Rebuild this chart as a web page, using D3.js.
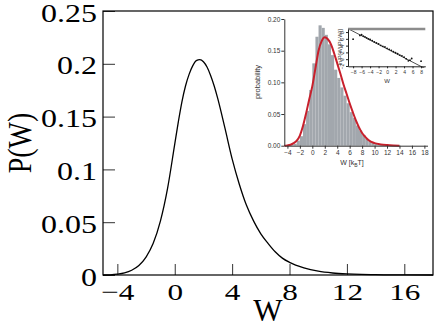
<!DOCTYPE html>
<html>
<head>
<meta charset="utf-8">
<script src="https://cdn.jsdelivr.net/npm/d3@7"></script>
<style>
  body { margin: 0; background: #fff; }
  svg { display: block; }
</style>
</head>
<body>
<svg id="chart"></svg>
<script>
// main curve P(W)
const mainW = [-5, -4.5, -4, -3.5, -3, -2.5, -2, -1.5, -1, -0.5, 0, 0.25, 0.5, 0.75, 1, 1.25, 1.5, 1.75, 2,
  2.25, 2.5, 2.75, 3, 3.5, 4, 4.5, 5, 5.5, 6, 6.5, 7, 7.5, 8, 9, 10, 11, 12, 13, 14, 15, 16, 18];
const mainP = [0, 0.0002, 0.0008, 0.002, 0.0045, 0.009, 0.017, 0.030, 0.051, 0.082, 0.124, 0.145, 0.164, 0.179,
  0.190, 0.198, 0.203, 0.204, 0.202, 0.197, 0.189, 0.179, 0.167, 0.139, 0.110, 0.086, 0.066, 0.051, 0.039,
  0.030, 0.022, 0.016, 0.012, 0.0068, 0.0036, 0.0019, 0.0010, 0.0005, 0.0003, 0.0001, 0.00005, 0];
const mainXTicks = [-4, 0, 4, 8, 12, 16];
const mainYTicks = [0, 0.05, 0.1, 0.15, 0.2, 0.25];
const mainYLabels = ['0', '0.05', '0.1', '0.15', '0.2', '0.25'];

// inset histogram (bin left edges, bin width 0.5)
const histLeft = [-4, -3.5, -3, -2.5, -2, -1.5, -1, -0.5, 0, 0.5, 1, 1.5, 2, 2.5, 3, 3.5, 4, 4.5, 5, 5.5,
  6, 6.5, 7, 7.5, 8, 8.5, 9, 9.5, 10, 10.5, 11, 12, 13];
const histP = [0.001, 0.002, 0.003, 0.008, 0.015, 0.034, 0.055, 0.088, 0.13, 0.172, 0.19, 0.186, 0.175,
  0.16, 0.143, 0.12, 0.107, 0.092, 0.079, 0.067, 0.053, 0.044, 0.032, 0.024, 0.017, 0.011, 0.007, 0.005,
  0.003, 0.002, 0.001, 0.0008, 0.0005];
const binWidth = 0.5;

// inset fitted curve
const insetW = [-4.5, -4, -3.5, -3, -2.5, -2, -1.5, -1, -0.5, 0, 0.5, 1, 1.5, 2, 2.5, 3, 3.5, 4, 4.5, 5,
  5.5, 6, 6.5, 7, 7.5, 8, 8.5, 9, 10, 11, 12, 13, 14];
const insetP = [0, 0.0005, 0.0015, 0.004, 0.008, 0.016, 0.031, 0.051, 0.073, 0.094, 0.122, 0.150, 0.165,
  0.171, 0.168, 0.160, 0.146, 0.130, 0.114, 0.097, 0.082, 0.067, 0.053, 0.040, 0.029, 0.020, 0.014, 0.009,
  0.004, 0.002, 0.001, 0.0004, 0.0001];
const insetXTicks = [-4, -2, 0, 2, 4, 6, 8, 10, 12, 14, 16, 18];
const insetYTicks = [0, 0.05, 0.1, 0.15, 0.2];

// inner inset: ln[P(W)/P(-W)] vs W
const fluctW = [-8, -6.4, -6, -5.6, -5.2, -4.8, -4.4, -4, -3.5, -3, -2.5, -2, -1.5, -1, -0.5, 0, 0.5, 1,
  1.5, 2, 2.5, 3, 3.5, 4, 4.5, 5, 5.4, 5.8, 8];
const fluctLn = [5.9, 7.0, 7.2, 6.8, 6.6, 6.3, 6.0, 5.8, 5.5, 5.1, 4.8, 4.5, 4.1, 3.8, 3.6, 3.2, 2.9, 2.6,
  2.2, 1.9, 1.6, 1.2, 1.0, 0.6, 0.1, -0.5, -0.3, 0.2, -0.6];
const fitW = [-9.2, 9.0];
const fitLn = [9.0, -2.8];
const innerXTicks = [-8, -6, -4, -2, 0, 2, 4, 6, 8];
const innerYTicks = [-2, 0, 2, 4, 6, 8];

const width = 436, height = 327;
const svg = d3.select('#chart').attr('width', width).attr('height', height);

// ---- main plot ----
const m = {left: 103, top: 11, right: 433, bottom: 275};
const x = d3.scaleLinear().domain([-5, 18]).range([m.left, m.right]);
const y = d3.scaleLinear().domain([0, 0.25]).range([m.bottom, m.top]);

const serif = '"Liberation Serif", "Times New Roman", serif';
const sans = '"Liberation Sans", Arial, sans-serif';

// widen glyphs horizontally, like the original export
const stretch = (sel, k) => {
  sel.each(function () {
    const t = d3.select(this);
    t.attr('x', +t.attr('x') / k).attr('transform', `scale(${k},1)`);
  });
};

const xAxis = svg.append('g')
  .attr('transform', `translate(0,${m.bottom})`)
  .call(d3.axisBottom(x).tickValues(mainXTicks).tickSize(-11).tickPadding(8));
xAxis.select('.domain').remove();
xAxis.selectAll('line').attr('stroke', '#333');
xAxis.selectAll('text').attr('font-family', serif).attr('font-size', 24).attr('fill', '#000');
stretch(xAxis.selectAll('text'), 1.3);

const yAxis = svg.append('g')
  .attr('transform', `translate(${m.left},0)`)
  .call(d3.axisLeft(y).tickValues(mainYTicks).tickSize(-12).tickPadding(6)
    .tickFormat((d, i) => mainYLabels[i]));
yAxis.select('.domain').remove();
yAxis.selectAll('line').attr('stroke', '#333');
yAxis.selectAll('text').attr('font-family', serif).attr('font-size', 25).attr('fill', '#000')
  .attr('dy', '0.4em');
stretch(yAxis.selectAll('text'), 1.28);

svg.append('rect')
  .attr('x', m.left).attr('y', m.top)
  .attr('width', m.right - m.left).attr('height', m.bottom - m.top)
  .attr('fill', 'none').attr('stroke', '#000').attr('stroke-width', 1.2);

svg.append('path')
  .datum(mainW.map((w, i) => [w, mainP[i]]))
  .attr('fill', 'none')
  .attr('stroke', '#000')
  .attr('stroke-width', 1.3)
  .attr('d', d3.line().x(d => x(d[0])).y(d => y(d[1])).curve(d3.curveMonotoneX));

svg.append('text')
  .attr('transform', 'translate(31,143) scale(1.2,1) rotate(-90)')
  .attr('text-anchor', 'middle')
  .attr('font-family', serif).attr('font-size', 28)
  .text('P(W)');

svg.append('text')
  .attr('x', 268).attr('y', 321)
  .attr('text-anchor', 'middle')
  .attr('font-family', serif).attr('font-size', 31)
  .text('W');

// ---- inset ----
const ix = d3.scaleLinear().domain([-4.5, 18.5]).range([284.3, 427.5]);
const iy = d3.scaleLinear().domain([0, 0.2]).range([145.7, 19]);
const inset = svg.append('g');

inset.selectAll('rect.bar')
  .data(histLeft.map((l, i) => [l, histP[i]]))
  .join('rect')
  .attr('class', 'bar')
  .attr('x', d => ix(d[0]))
  .attr('width', d => ix(d[0] + binWidth) - ix(d[0]))
  .attr('y', d => iy(d[1]))
  .attr('height', d => iy(0) - iy(d[1]))
  .attr('fill', '#a2a7ad');

inset.append('path')
  .datum(insetW.map((w, i) => [w, insetP[i]]))
  .attr('fill', 'none')
  .attr('stroke', '#c8202c')
  .attr('stroke-width', 2)
  .attr('d', d3.line().x(d => ix(d[0])).y(d => iy(d[1])).curve(d3.curveMonotoneX));

inset.append('g')
  .attr('transform', `translate(0,${iy(0)})`)
  .call(d3.axisBottom(ix).tickValues(insetXTicks).tickSize(3).tickPadding(2).tickSizeOuter(0));
inset.append('g')
  .attr('transform', `translate(${ix.range()[0]},0)`)
  .call(d3.axisLeft(iy).tickValues(insetYTicks).tickSize(3).tickPadding(1).tickSizeOuter(0)
    .tickFormat(d3.format('.2f')));
inset.selectAll('.tick text').attr('font-family', sans).attr('font-size', 6.5).attr('fill', '#333');
inset.selectAll('.tick line, .domain').attr('stroke', '#333');

inset.append('text')
  .attr('transform', 'translate(260,82) rotate(-90)')
  .attr('text-anchor', 'middle')
  .attr('font-family', sans).attr('font-size', 7.5).attr('fill', '#333')
  .text('probability');

const wl = inset.append('text')
  .attr('x', 352).attr('y', 165)
  .attr('text-anchor', 'middle')
  .attr('font-family', sans).attr('font-size', 7).attr('fill', '#333');
wl.append('tspan').text('W [k');
wl.append('tspan').attr('font-size', 5).attr('dy', 2).text('B');
wl.append('tspan').attr('dy', -2).text('T]');

// ---- inner inset ----
const jx = d3.scaleLinear().domain([-9.2, 9]).range([348, 425.3]);
const jy = d3.scaleLinear().domain([-2.1, 8.9]).range([66.3, 29]);
const inner = svg.append('g');

inner.append('rect')
  .attr('x', 348).attr('y', 29).attr('width', 77.3).attr('height', 37.3)
  .attr('fill', '#fff');

inner.append('clipPath').attr('id', 'innerClip')
  .append('rect').attr('x', 348).attr('y', 29).attr('width', 77.3).attr('height', 39);

inner.append('path')
  .datum(fitW.map((w, i) => [w, fitLn[i]]))
  .attr('clip-path', 'url(#innerClip)')
  .attr('fill', 'none').attr('stroke', '#222').attr('stroke-width', 0.8)
  .attr('d', d3.line().x(d => jx(d[0])).y(d => jy(d[1])));

inner.selectAll('circle')
  .data(fluctW.map((w, i) => [w, fluctLn[i]]))
  .join('circle')
  .attr('cx', d => jx(d[0])).attr('cy', d => jy(d[1]))
  .attr('r', 0.9).attr('fill', '#111');

inner.append('line')
  .attr('x1', 348).attr('x2', 425.3).attr('y1', 29).attr('y2', 29)
  .attr('stroke', '#8c8c8c').attr('stroke-width', 2.5);

inner.append('g')
  .attr('transform', 'translate(0,66.3)')
  .call(d3.axisBottom(jx).tickValues(innerXTicks).tickSize(2).tickPadding(2).tickSizeOuter(0));
const jyAxis = inner.append('g')
  .attr('transform', 'translate(348,0)')
  .call(d3.axisLeft(jy).tickValues(innerYTicks).tickSize(2).tickPadding(1).tickSizeOuter(0));
inner.selectAll('.tick text').attr('font-family', sans).attr('font-size', 5).attr('fill', '#333');
jyAxis.selectAll('.tick text')
  .attr('text-anchor', 'middle').attr('dy', 0)
  .attr('transform', 'rotate(-90)')
  .attr('x', 0).attr('y', -4.5);
inner.selectAll('.tick line, .domain').attr('stroke', '#222');

inner.append('text')
  .attr('transform', 'translate(342,47) rotate(-90)')
  .attr('text-anchor', 'middle')
  .attr('font-family', sans).attr('font-size', 5.5).attr('fill', '#333')
  .text('ln[P(W)/P(-W)]');

inner.append('text')
  .attr('x', 387).attr('y', 82.5)
  .attr('text-anchor', 'middle')
  .attr('font-family', sans).attr('font-size', 6).attr('fill', '#333')
  .text('W');
</script>
</body>
</html>
